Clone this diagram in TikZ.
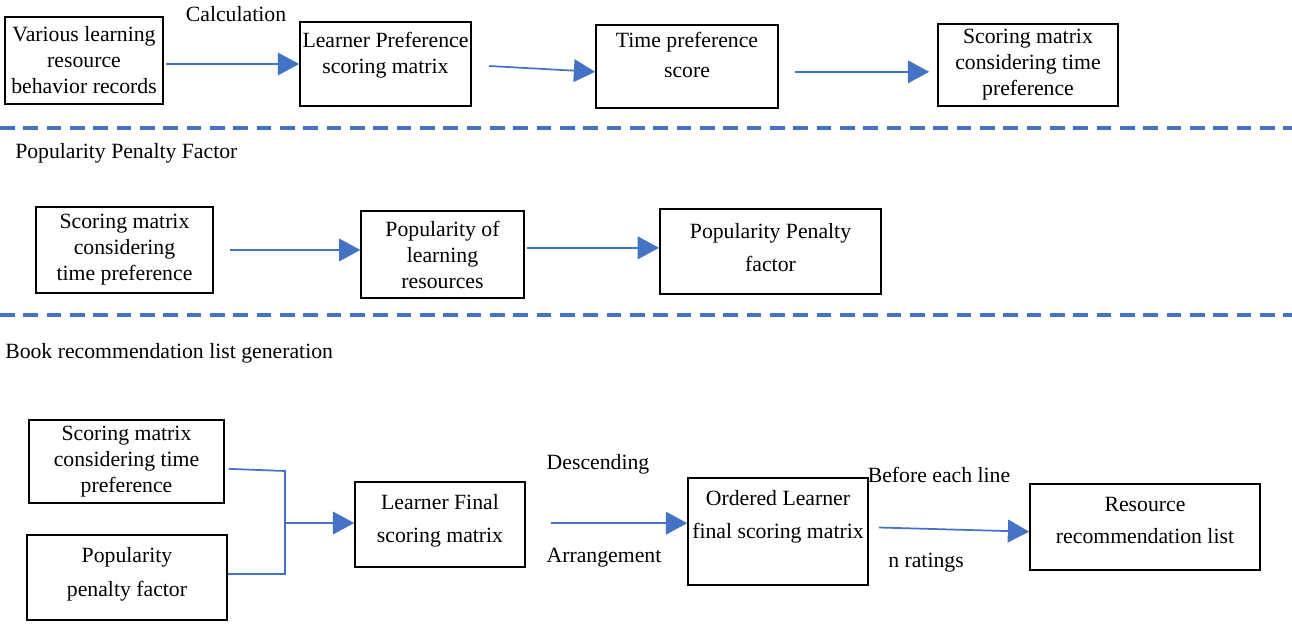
\documentclass[tikz,border=0pt]{standalone}
\usepackage{fontspec}
\setmainfont{Liberation Serif}
\newfontfamily\rcserif{Liberation Serif}
\usetikzlibrary{arrows.meta,positioning}
\definecolor{rcBlue}{HTML}{4472C4}
\definecolor{rcInk} {HTML}{000000}

\begin{document}
\begin{tikzpicture}[x=0.75pt,y=-0.75pt,
    font=\rcserif\fontsize{16.3}{19.5}\selectfont,
    box/.style={draw=rcInk,line width=1.2pt,align=center,inner sep=2pt},
    flow/.style={-{Triangle[length=16pt,width=17pt]},rcBlue,line width=1.3pt},
    link/.style={rcBlue,line width=1.3pt},
    band/.style={rcBlue,line width=2.3pt,dash pattern=on 11pt off 6.5pt},
    lbl/.style={inner sep=0pt}]
    \useasboundingbox (0,0) rectangle (1292,625);

    % stage 1: time preference
    \node[box,minimum width=118.5pt,minimum height=65pt] (rec) at (84,60.5)
      {Various learning\\resource\\behavior records};
    \node[box,minimum width=127pt,minimum height=63pt,text depth=16pt] (pref) at (385.5,64)
      {Learner Preference\\scoring matrix};
    \node[box,minimum width=136.5pt,minimum height=62pt,text depth=17pt] (tscore) at (687,66.5)
      {Time preference\\[3pt]score};
    \node[box,minimum width=135pt,minimum height=61.5pt] (tmat) at (1028,65)
      {Scoring matrix\\considering time\\preference};

    \draw[flow] ([xshift=2pt]rec.east |- pref.west) -- (pref.west);
    \draw[flow] ([xshift=13pt,yshift=-1.5pt]pref.east) -- ([yshift=-4pt]tscore.west);
    \draw[flow] ([xshift=12.5pt,yshift=-4pt]tscore.east) -- ([xshift=-6pt,yshift=-4pt]tscore.east -| tmat.west);
    \node[lbl] (calc) at (236,14) {Calculation};

    \draw[band] (0,128) -- (1292,128);

    % stage 2: popularity penalty
    \node[lbl,anchor=west] (sec2) at (15,153) {Popularity Penalty Factor};
    \node[box,minimum width=133pt,minimum height=64.5pt] (tmat2) at (124.5,250)
      {Scoring matrix\\considering\\time preference};
    \node[box,minimum width=122pt,minimum height=65pt] (popu) at (442.5,254.5)
      {Popularity of\\learning\\resources};
    \node[box,minimum width=166pt,minimum height=64pt,text depth=6pt] (pen) at (770.5,251.5)
      {Popularity Penalty\\[5pt]factor};

    \draw[flow] ([xshift=12pt]tmat2.east) -- (tmat2.east -| popu.west);
    \draw[flow] ([xshift=2pt,yshift=5pt]popu.east) -- ([yshift=5pt]popu.east -| pen.west);

    \draw[band] (0,315) -- (1292,315);

    % stage 3: recommendation list
    \node[lbl,anchor=west] (sec3) at (5,353) {Book recommendation list generation};
    \node[box,minimum width=146pt,minimum height=62pt] (tmat3) at (126.5,461.5)
      {Scoring matrix\\considering time\\preference};
    \node[box,minimum width=150pt,minimum height=64pt,text depth=9pt] (pen2) at (127,577.5)
      {Popularity\\[6pt]penalty factor};
    \node[box,minimum width=127.5pt,minimum height=64pt,text depth=9pt] (final) at (440,524.5)
      {Learner Final\\[5pt]scoring matrix};
    \node[box,minimum width=135pt,minimum height=80pt,text depth=26pt] (ordered) at (778,531.5)
      {Ordered Learner\\[5pt]final scoring matrix};
    \node[box,minimum width=172.5pt,minimum height=64.5pt,text depth=10pt] (list) at (1145,527)
      {Resource\\[5pt]recommendation list};

    \coordinate (jtop) at (285,471);
    \coordinate (jbot) at (285,574);
    \coordinate (jmid) at (285,523);
    \draw[link] ([xshift=3pt,yshift=-5.5pt]tmat3.east) -- (jtop) -- (jbot) -- (pen2.east |- jbot);
    \draw[flow] (jmid) -- (final.west |- jmid);
    \draw[flow] ([xshift=19pt,yshift=1pt]final.east) -- ([yshift=1pt]final.east -| ordered.west);
    \draw[flow] ([xshift=7.5pt,yshift=3pt]ordered.east) -- ([yshift=-3.5pt]list.west);

    \node[lbl] (desc) at (598,464) {Descending};
    \node[lbl] (arr) at (604,558) {Arrangement};
    \node[lbl] (before) at (939,475) {Before each line};
    \node[lbl] (nrat) at (926,563) {n ratings};
\end{tikzpicture}
\end{document}
